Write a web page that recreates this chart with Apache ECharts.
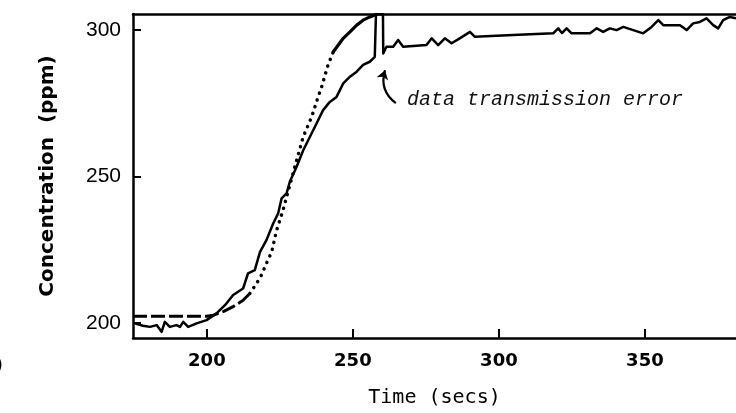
<!DOCTYPE html>
<html>
<head>
<meta charset="utf-8">
<script src="https://cdn.jsdelivr.net/npm/echarts@6/dist/echarts.min.js"></script>
<style>
  html, body { margin: 0; padding: 0; background: #fff; }
  #chart { width: 736px; height: 413px; }
</style>
</head>
<body>
<div id="chart"></div>
<script>
// Axis ranges and tick positions
const timeRange = [174.7, 381.2];
const concRange = [194.9, 305.5];
const timeTicks = [200, 250, 300, 350];
const concTicks = [200, 250, 300];

// Measured concentration trace [time (s), ppm]
const measured = [
  [175.3, 199.9], [178.1, 199.1], [180.5, 198.7], [182.8, 199.3], [184.5, 197.0],
  [185.6, 200.4], [187.3, 198.7], [189.6, 199.3], [190.8, 198.7], [191.9, 200.4],
  [193.6, 198.7], [196.5, 199.9], [199.9, 201.0], [203.3, 203.3], [206.2, 206.1],
  [209.0, 209.6], [212.4, 211.8], [214.1, 217.0], [216.4, 218.1], [218.2, 224.3],
  [220.4, 228.3], [222.7, 234.0], [224.4, 237.4], [225.6, 242.6], [227.3, 244.3],
  [228.4, 248.2], [230.7, 253.3], [233.0, 259.0], [235.3, 263.6], [237.6, 268.2],
  [239.8, 272.7], [242.1, 275.5], [244.4, 277.2], [246.7, 281.8], [249.0, 284.1],
  [251.3, 285.8], [253.5, 288.1], [255.8, 289.2], [257.5, 290.9], [257.9, 305.4],
  [260.3, 305.4], [260.4, 292.0], [261.5, 294.3], [263.8, 294.3], [265.5, 296.6],
  [267.2, 294.3], [275.2, 294.9], [277.0, 297.2], [279.2, 294.9], [281.5, 297.2],
  [283.8, 295.5], [286.6, 297.2], [290.1, 299.4], [291.8, 297.7], [304.9, 298.3],
  [318.6, 298.9], [320.3, 300.6], [321.6, 299.0], [323.2, 300.6], [324.9, 298.9],
  [331.2, 298.9], [333.5, 300.6], [335.7, 299.4], [338.0, 300.6], [340.3, 300.0],
  [342.6, 301.1], [346.0, 300.0], [349.4, 298.9], [352.3, 301.1], [354.6, 303.4],
  [356.3, 301.7], [362.0, 301.7], [364.3, 300.0], [366.5, 302.3], [368.8, 302.8],
  [371.1, 304.0], [373.4, 301.7], [375.1, 300.6], [376.8, 303.4], [379.1, 304.5],
  [381.2, 304.0]
];

// Model prediction, drawn in three pieces (dashed, dotted, solid)
const modelDashed = [
  [174.7, 202.3], [200.0, 202.3], [202.2, 202.7], [205.6, 203.9], [209.0, 205.6],
  [212.4, 207.8], [214.7, 210.1]
];
const modelDotted = [
  [214.7, 210.1], [217.0, 213.5], [218.7, 216.4], [220.4, 220.4], [222.2, 224.3],
  [223.9, 231.7], [225.0, 235.2], [226.1, 238.6], [230.1, 253.3], [233.0, 263.6],
  [235.9, 270.4], [238.1, 277.2], [239.3, 280.6], [241.5, 288.1], [243.3, 292.6]
];
const modelSolid = [
  [243.3, 292.6], [245.0, 294.9], [246.7, 297.2], [249.0, 299.4], [251.3, 301.7],
  [253.5, 303.4], [255.8, 304.5], [258.1, 305.4]
];

// Annotation: arrow from the note up to the dropout
const noteArrow = [[264.7, 275.1], [261.0, 286.3]];
const notePos = [268.5, 276.1];
const noteText = 'data transmission error';

const chart = echarts.init(document.getElementById('chart'), null, { renderer: 'canvas' });

const ink = '#000';
const lineBase = { type: 'line', showSymbol: false, symbol: 'none', silent: true, animation: false };

chart.setOption({
  backgroundColor: '#fff',
  animation: false,
  grid: { left: 133, top: 14, right: 0, bottom: 75, containLabel: false },
  xAxis: [{
    type: 'value', min: timeRange[0], max: timeRange[1],
    name: 'Time (secs)', nameLocation: 'middle', nameGap: 50,
    nameTextStyle: { fontFamily: 'DejaVu Sans Mono', fontSize: 20, color: ink },
    axisLine: { show: true, lineStyle: { color: ink, width: 2.5 } },
    axisTick: { show: true, inside: true, length: 9, customValues: timeTicks, lineStyle: { color: ink, width: 2 } },
    axisLabel: { customValues: timeTicks, margin: 14, fontFamily: 'DejaVu Sans', fontWeight: 'bold', fontSize: 18, color: ink },
    splitLine: { show: false }
  }, {
    type: 'value', position: 'top', min: timeRange[0], max: timeRange[1],
    axisLine: { show: true, lineStyle: { color: ink, width: 2.5 } },
    axisTick: { show: false }, axisLabel: { show: false }, splitLine: { show: false }
  }],
  yAxis: {
    type: 'value', min: concRange[0], max: concRange[1],
    name: 'Concentration  (ppm)', nameLocation: 'middle', nameGap: 75, nameRotate: 90,
    nameTextStyle: { fontFamily: 'DejaVu Sans', fontWeight: 'bold', fontSize: 20, color: ink },
    axisLine: { show: true, lineStyle: { color: ink, width: 2.5 } },
    axisTick: { show: true, inside: true, length: 8, customValues: concTicks, lineStyle: { color: ink, width: 2 } },
    axisLabel: { customValues: concTicks, margin: 12, fontFamily: 'Liberation Sans', fontSize: 21, color: ink },
    splitLine: { show: false }
  },
  series: [
    Object.assign({}, lineBase, {
      name: 'model-dashed', data: modelDashed,
      lineStyle: { color: ink, width: 3, type: [14, 4] }
    }),
    Object.assign({}, lineBase, {
      name: 'model-dotted', data: modelDotted,
      lineStyle: { color: ink, width: 3.5, type: [0.1, 7], cap: 'round' }
    }),
    Object.assign({}, lineBase, {
      name: 'model-solid', data: modelSolid,
      lineStyle: { color: ink, width: 3.2, cap: 'round' }
    }),
    Object.assign({}, lineBase, {
      name: 'measured', data: measured,
      lineStyle: { color: ink, width: 2.5, join: 'round' },
      markPoint: {
        silent: true, animation: false,
        symbol: 'circle', symbolSize: 0,
        label: {
          show: true, position: 'right', distance: 0, formatter: noteText,
          fontFamily: 'Liberation Mono', fontStyle: 'italic', fontSize: 20, color: '#111'
        },
        data: [{ coord: notePos }]
      }
    }),
    {
      // curved pointer from the note to the dropout
      type: 'lines', coordinateSystem: 'cartesian2d', silent: true, animation: false,
      symbol: ['none', 'arrow'], symbolSize: 9,
      lineStyle: { color: ink, width: 2.2, curveness: 0.35, opacity: 1 },
      data: [{ coords: noteArrow }]
    }
  ],
  graphic: [{
    type: 'text', left: -6, top: 356,
    style: { text: ')', font: 'bold 20px "DejaVu Sans"', fill: ink }
  }]
});
</script>
</body>
</html>
